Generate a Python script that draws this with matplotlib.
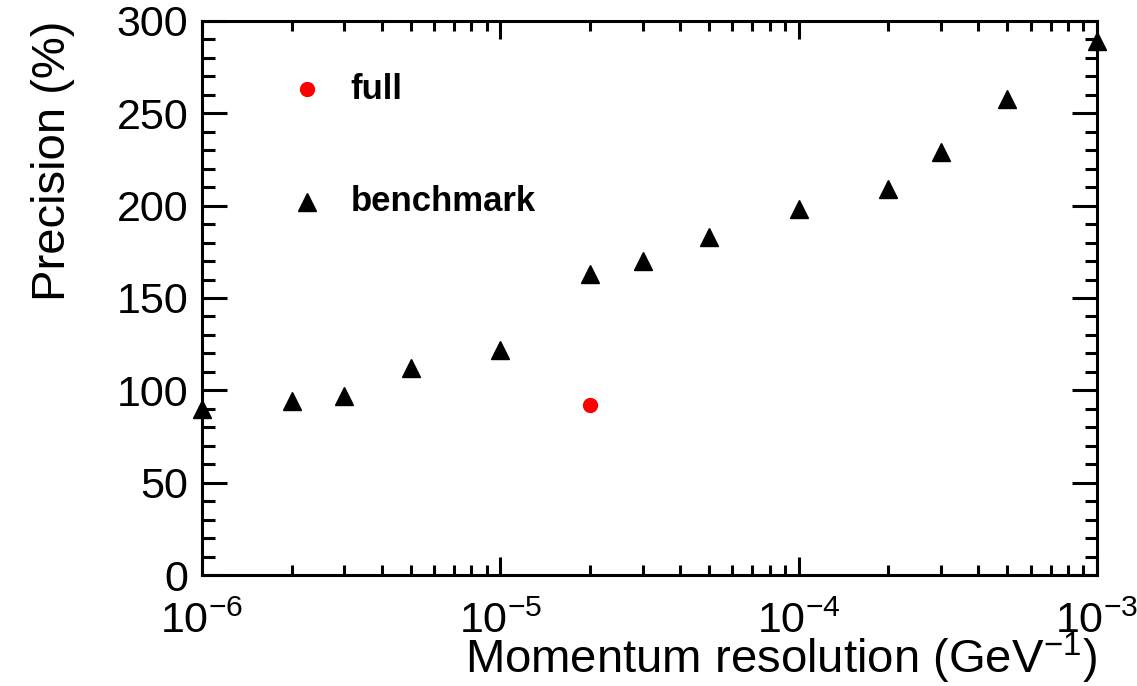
import matplotlib
matplotlib.use('Agg')
import matplotlib.pyplot as plt
import matplotlib.ticker as ticker

plt.rcParams.update({
    'font.family': 'Liberation Sans',
    'mathtext.fontset': 'custom',
    'mathtext.rm': 'Liberation Sans',
    'mathtext.it': 'Liberation Sans:italic',
    'mathtext.bf': 'Liberation Sans:bold',
})

# momentum resolution (GeV^-1) and precision (%)
bench_res = [1e-6, 2e-6, 3e-6, 5e-6, 1e-5, 2e-5, 3e-5, 5e-5, 1e-4, 2e-4, 3e-4, 5e-4, 1e-3]
bench_prec = [90, 94, 97, 112, 122, 163, 170, 183, 198, 209, 229, 258, 289]
full_res = [2e-5]
full_prec = [92]

fig = plt.figure(figsize=(11.37, 6.86), dpi=100)
ax = fig.add_axes([0.1777, 0.1618, 0.7871, 0.8076])

ax.plot(bench_res, bench_prec, linestyle='none', marker='^', markersize=13,
        color='black', clip_on=False, zorder=3)
ax.plot(full_res, full_prec, linestyle='none', marker='o', markersize=10,
        color='#ff0000', clip_on=False, zorder=3)

ax.set_xscale('log')
ax.set_xlim(1e-6, 1e-3)
ax.set_ylim(0, 300)

ax.yaxis.set_major_locator(ticker.MultipleLocator(50))
ax.yaxis.set_minor_locator(ticker.MultipleLocator(10))
ax.xaxis.set_major_locator(ticker.LogLocator(base=10, numticks=10))
ax.xaxis.set_minor_locator(ticker.LogLocator(base=10, subs=range(2, 10), numticks=10))
ax.xaxis.set_minor_formatter(ticker.NullFormatter())

for s in ax.spines.values():
    s.set_linewidth(2.2)

ax.tick_params(axis='both', which='both', direction='in', top=True, right=True,
               width=2.2, labelsize=31)
ax.tick_params(axis='y', which='major', length=18, pad=10)
ax.tick_params(axis='y', which='minor', length=9)
ax.tick_params(axis='x', which='major', length=13, pad=19)
ax.tick_params(axis='x', which='minor', length=7)

ax.set_ylabel('Precision (%)', fontsize=34, loc='top', labelpad=30)
ax.set_xlabel('Momentum resolution (GeV$^{-1}$)', fontsize=34, loc='right', labelpad=-8)

# legend entries placed inside the frame
ax.plot([2.25e-6], [263], linestyle='none', marker='o', markersize=10, color='#ff0000')
ax.plot([2.25e-6], [202], linestyle='none', marker='^', markersize=13, color='black')
ax.text(3.15e-6, 263, 'full', fontsize=25, fontweight='bold', va='center')
ax.text(3.15e-6, 202, 'benchmark', fontsize=25, fontweight='bold', va='center')

fig.savefig('out.png', dpi=100)
